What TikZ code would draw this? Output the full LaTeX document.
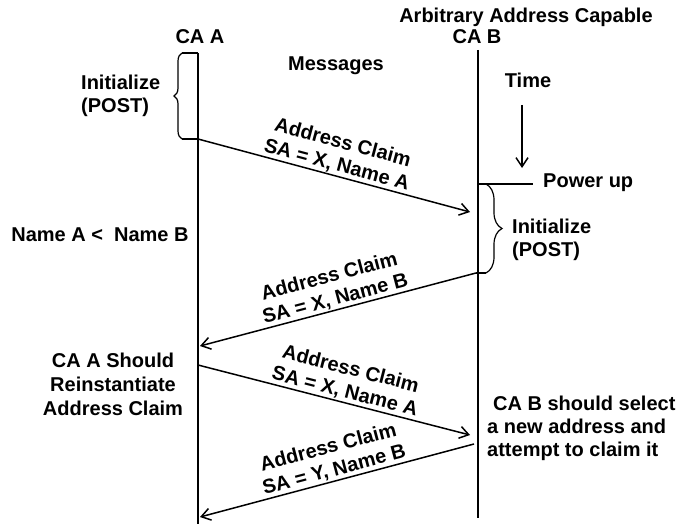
\documentclass[tikz,border=0pt]{standalone}
\usepackage{fontspec}
\setmainfont{Liberation Sans}[BoldFont={Liberation Sans Bold}]
\usetikzlibrary{arrows.meta,decorations.pathreplacing}

\tikzset{
    rotulo/.style={font=\bfseries\fontsize{20}{23}\selectfont, inner sep=0pt},
    mensagem/.style={black, line width=1.5pt, -{Straight Barb[length=9pt,width=12pt]}},
    chave/.style={black, line width=1.2pt, decorate, decoration={brace, amplitude=#1}}
}

\begin{document}
\begin{tikzpicture}[x=1pt, y=-1pt]
            \useasboundingbox (0,0) rectangle (680,524);

            \coordinate (Atopo) at (198,53);
            \coordinate (Afim) at (198,524);
            \coordinate (Btopo) at (478,50);
            \coordinate (Bfim) at (478,518);
            \draw[black, line width=2pt] (Atopo) -- (Afim);
            \draw[black, line width=2pt] (Btopo) -- (Bfim);

            \node[rotulo, anchor=base] (caA) at (200,44) {CA A};
            \node[rotulo, anchor=base] (arb) at (526,23) {Arbitrary Address Capable};
            \node[rotulo, anchor=base] (caB) at (477,44) {CA B};
            \node[rotulo, anchor=base] (msgs) at (336,71) {Messages};
            \node[rotulo, anchor=base] (tempo) at (528,88) {Time};

            \coordinate (tempo1) at (522,105);
            \coordinate (tempo2) at (522,168);
            \draw[mensagem] (tempo1) -- (tempo2);

            \coordinate (A0) at (182,53);
            \coordinate (A1) at (198,139);
            \coordinate (A1c) at (182,139);
            \draw[black, line width=1.2pt] (Atopo) -- (A0);
            \draw[black, line width=1.2pt] (A1) -- (A1c);
            \draw[chave=8pt] (A1c) -- (A0);
            \node[rotulo, anchor=north west, align=left] (iniA) at (81,75) {Initialize\\(POST)};

            \coordinate (Bliga) at (478,184);
            \coordinate (B0) at (486,184);
            \coordinate (ligar) at (533,184);
            \coordinate (B2) at (476,273);
            \coordinate (B2c) at (486,273);
            \draw[black, line width=1.2pt] (Bliga) -- (ligar);
            \draw[black, line width=1.2pt] (B2) -- (B2c);
            \draw[chave=16pt] (B0) -- (B2c);
            \node[rotulo, anchor=base west] (power) at (543,187) {Power up};
            \node[rotulo, anchor=north west, align=left] (iniB) at (512,219) {Initialize\\(POST)};

            \node[rotulo, anchor=base] (nomes) at (100,241) {Name A <\ \ Name B};
            \node[rotulo, anchor=north, align=center, font=\bfseries\fontsize{20}{24}\selectfont] (reinst) at (113,353) {CA A Should\\Reinstantiate\\Address Claim};
            \node[rotulo, anchor=north west, align=left] (novo) at (487,396) {\hspace*{6pt}CA B should select\\a new address and\\attempt to claim it};

            \coordinate (B1) at (470,212);
            \coordinate (A2) at (200,346);
            \coordinate (A3) at (198,365);
            \coordinate (B3) at (470,435);
            \coordinate (B4) at (474,444);
            \coordinate (A4) at (200,517);

            \draw[mensagem] (A1) -- node[rotulo, midway, sloped, above=1pt, align=center] (m1) {Address Claim\\SA = X, Name A} (B1);
            \draw[mensagem] (B2) -- node[rotulo, midway, sloped, above=1pt, align=center] (m2) {Address Claim\\SA = X, Name B} (A2);
            \draw[mensagem] (A3) -- node[rotulo, pos=0.53, sloped, above=1pt, align=center] (m3) {Address Claim\\SA = X, Name A} (B3);
            \draw[mensagem] (B4) -- node[rotulo, midway, sloped, above=1pt, align=center] (m4) {Address Claim\\SA = Y, Name B} (A4);
        \end{tikzpicture}
\end{document}
